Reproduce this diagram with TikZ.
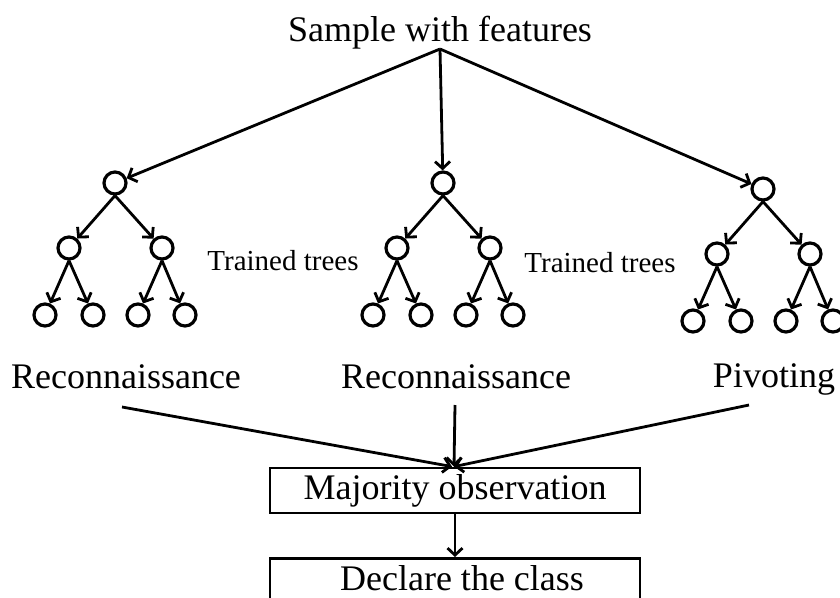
\documentclass[tikz,border=0pt]{standalone}
\usepackage{fontspec}
\setmainfont{Liberation Serif}
\usetikzlibrary{arrows.meta}
\tikzset{
  tnode/.style={circle, draw, line width=3.2pt, minimum size=22pt, inner sep=0pt},
  arr/.style={line width=2.8pt, -{Straight Barb[length=7pt,width=15pt]}},
  big/.style={font=\fontsize{36}{40}\selectfont, inner sep=0pt},
  small/.style={font=\fontsize{29}{32}\selectfont, inner sep=0pt},
  box/.style={draw, line width=2.8pt, minimum width=370pt, inner sep=0pt}
}
% binary tree of depth two: #1 name prefix, (#2,#3) root position
\newcommand\drawtree[3]{%
  \node[tnode] (#1r)  at (#2,#3) {};
  \node[tnode] (#1a)  at (#2-46,#3+65) {};
  \node[tnode] (#1b)  at (#2+47,#3+65) {};
  \node[tnode] (#1aa) at (#2-70,#3+132) {};
  \node[tnode] (#1ab) at (#2-22,#3+132) {};
  \node[tnode] (#1ba) at (#2+23,#3+132) {};
  \node[tnode] (#1bb) at (#2+70,#3+132) {};
  \draw[arr] (#1r.south) -- (#1a);
  \draw[arr] (#1r.south) -- (#1b);
  \draw[arr] (#1a.south) -- (#1aa);
  \draw[arr] (#1a.south) -- (#1ab);
  \draw[arr] (#1b.south) -- (#1ba);
  \draw[arr] (#1b.south) -- (#1bb);
}
\begin{document}
\begin{tikzpicture}[x=1pt, y=-1pt]
  \clip (0,0) rectangle (840,597);
  \fill[white] (0,0) rectangle (840,597);

  \node[big, anchor=base] (sample) at (440,41) {Sample with features};

  \drawtree{L}{115}{183}
  \drawtree{M}{443}{183}
  \drawtree{R}{763}{189}

  \draw[arr] ([yshift=-8pt]sample.base) -- (Lr);
  \draw[arr] ([yshift=-8pt]sample.base) -- (Mr);
  \draw[arr] ([yshift=-8pt]sample.base) -- (Rr);

  \node[small, anchor=base] (tt1) at (283,270) {Trained trees};
  \node[small, anchor=base] (tt2) at (600,272) {Trained trees};

  \node[big, anchor=base] (rec1) at (126,388) {Reconnaissance};
  \node[big, anchor=base] (rec2) at (456,388) {Reconnaissance};
  \node[big, anchor=base] (piv)  at (774,387) {Pivoting};

  \node[box, minimum height=45pt, text height=25pt, text depth=8pt] (major) at (455,490.5) {\fontsize{36}{40}\selectfont Majority observation};

  \draw[arr] ([shift={(-4pt,-19pt)}]rec1.base) -- ([xshift=-3pt]major.north);
  \draw[arr] ([shift={(-1pt,-17pt)}]rec2.base) -- ([xshift=-1pt]major.north);
  \draw[arr] ([shift={(-25pt,-18pt)}]piv.base) -- ([xshift=-1pt]major.north);

  \node[box, minimum height=70pt, anchor=north] (clsbox) at (455,557) {};
  \node[big, anchor=base, text depth=0pt] (declare) at (462,590) {Declare the class};

  \draw[arr] (major.south) -- (clsbox.north);
\end{tikzpicture}
\end{document}
